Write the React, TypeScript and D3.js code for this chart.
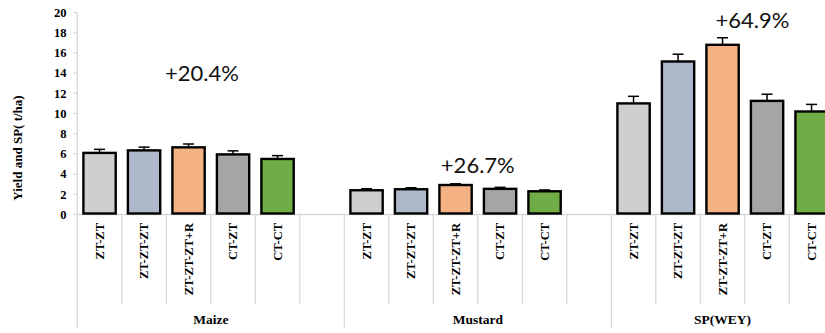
import React from "react";
import * as d3 from "d3";

const groups = ["Maize", "Mustard", "SP(WEY)"];
const treatments = ["ZT-ZT", "ZT-ZT-ZT", "ZT-ZT-ZT+R", "CT-ZT", "CT-CT"];
const maizeValues = [6.1, 6.35, 6.65, 5.95, 5.5];
const maizeErrors = [0.35, 0.32, 0.33, 0.35, 0.33];
const mustardValues = [2.4, 2.5, 2.92, 2.54, 2.3];
const mustardErrors = [0.15, 0.15, 0.12, 0.15, 0.13];
const spValues = [11.0, 15.15, 16.8, 11.25, 10.2];
const spErrors = [0.7, 0.72, 0.7, 0.66, 0.7];
const yTicks = [0, 2, 4, 6, 8, 10, 12, 14, 16, 18, 20];
const annotations = ["+20.4%", "+26.7%", "+64.9%"];
const annotationY = [13.2, 4.1, 18.45];
const colors = ["#d0cece", "#adb9ca", "#f4b183", "#a5a5a5", "#70ad47"];

const W = 825;
const H = 333;

export default function App() {
  const valuesByGroup = [maizeValues, mustardValues, spValues];
  const errorsByGroup = [maizeErrors, mustardErrors, spErrors];

  const slots: { key: string; g: number; t: number }[] = [];
  groups.forEach((g, gi) => {
    treatments.forEach((t, ti) => slots.push({ key: `${gi}-${ti}`, g: gi, t: ti }));
    if (gi < groups.length - 1) slots.push({ key: `${gi}-blank`, g: gi, t: -1 });
  });

  const x = d3
    .scaleBand<string>()
    .domain(slots.map((s) => s.key))
    .range([77.3, 833.8])
    .paddingInner(0)
    .paddingOuter(0);
  const bw = x.bandwidth();
  const y = d3.scaleLinear().domain([0, 20]).range([214.5, 12.5]);

  const axisX = 77.3;
  const gridColor = "#d9d9d9";
  const serif = "'Liberation Serif', 'Times New Roman', serif";

  const groupStart = (gi: number) => x(`${gi}-0`)!;
  const groupEnd = (gi: number) => {
    const last = gi < groups.length - 1 ? `${gi}-blank` : `${gi}-4`;
    return x(last)! + bw;
  };

  const barW = 32.3;
  const annXOffsets = [2.8 * bw, 3.0 * bw, 3.17 * bw];

  return (
    <div style={{ position: "fixed", left: 0, top: 0 }}>
      <svg width={W} height={H} style={{ display: "block", background: "#fff" }}>
        <text
          transform={`translate(22,148) rotate(-90)`}
          textAnchor="middle"
          fontFamily={serif}
          fontWeight="bold"
          fontSize={13}
        >
          Yield and SP( t/ha)
        </text>
        <line x1={axisX} x2={axisX} y1={y(20)} y2={328} stroke={gridColor} strokeWidth={1.3} />
        {yTicks.map((t) => (
          <g key={t}>
            <line x1={axisX - 4} x2={axisX} y1={y(t)} y2={y(t)} stroke={gridColor} strokeWidth={1.3} />
            <text
              x={66.5}
              y={y(t)}
              dy="0.35em"
              textAnchor="end"
              fontFamily={serif}
              fontWeight="bold"
              fontSize={12.5}
            >
              {t}
            </text>
          </g>
        ))}
        <line x1={axisX} x2={W} y1={y(0)} y2={y(0)} stroke={gridColor} strokeWidth={1.3} />
        {slots.map((s, i) => {
          if (i === 0) return null;
          const xx = x(s.key)!;
          const isGroupStart = s.t === 0;
          return (
            <line
              key={`sep-${s.key}`}
              x1={xx}
              x2={xx}
              y1={y(0)}
              y2={isGroupStart ? 328 : 304}
              stroke={gridColor}
              strokeWidth={1.3}
            />
          );
        })}
        {slots
          .filter((s) => s.t >= 0)
          .map((s) => {
            const v = valuesByGroup[s.g][s.t];
            const e = errorsByGroup[s.g][s.t];
            const cx = x(s.key)! + bw / 2;
            return (
              <g key={`bar-${s.key}`}>
                <line x1={cx} x2={cx} y1={y(v)} y2={y(v + e)} stroke="#000" strokeWidth={1.5} />
                <line x1={cx - 5.5} x2={cx + 5.5} y1={y(v + e)} y2={y(v + e)} stroke="#000" strokeWidth={1.5} />
                <rect
                  x={cx - barW / 2}
                  y={y(v)}
                  width={barW}
                  height={y(0) - y(v) - 1}
                  fill={colors[s.t]}
                  stroke="#000"
                  strokeWidth={2.4}
                />
              </g>
            );
          })}
        {slots
          .filter((s) => s.t >= 0)
          .map((s) => {
            const cx = x(s.key)! + bw / 2;
            return (
              <text
                key={`lab-${s.key}`}
                transform={`translate(${cx},223) rotate(-90)`}
                textAnchor="end"
                dy="0.35em"
                fontFamily={serif}
                fontWeight="bold"
                fontSize={12.5}
              >
                {treatments[s.t]}
              </text>
            );
          })}
        {groups.map((g, gi) => (
          <text
            key={`g-${g}`}
            x={(groupStart(gi) + groupEnd(gi)) / 2}
            y={324}
            textAnchor="middle"
            fontFamily={serif}
            fontWeight="bold"
            fontSize={13.5}
          >
            {g}
          </text>
        ))}
        {annotations.map((a, i) => (
          <text
            key={`ann-${i}`}
            x={groupStart(i) + annXOffsets[i]}
            y={y(annotationY[i])}
            textAnchor="middle"
            fontFamily="Lato, 'Open Sans', sans-serif"
            fontSize={22}
            fill="#111"
          >
            {a}
          </text>
        ))}
      </svg>
    </div>
  );
}
